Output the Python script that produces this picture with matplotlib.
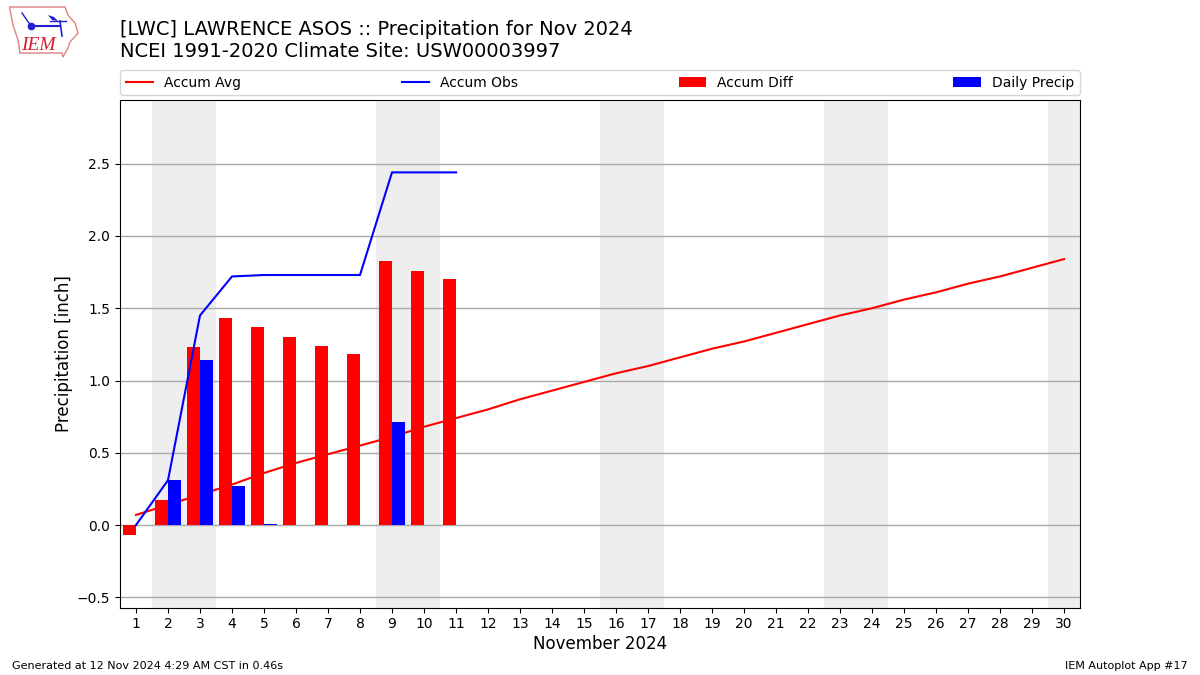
import matplotlib
matplotlib.use("Agg")
import matplotlib.pyplot as plt
from matplotlib.patches import Polygon

# November 2024 daily values
days = list(range(1, 31))
obs_days = list(range(1, 12))
accum_avg = [0.07, 0.14, 0.21, 0.28, 0.36, 0.43, 0.49, 0.55, 0.61, 0.68,
             0.74, 0.80, 0.87, 0.93, 0.99, 1.05, 1.10, 1.16, 1.22, 1.27,
             1.33, 1.39, 1.45, 1.50, 1.56, 1.61, 1.67, 1.72, 1.78, 1.84]
accum_obs = [0.0, 0.31, 1.45, 1.72, 1.73, 1.73, 1.73, 1.73, 2.44, 2.44, 2.44]
accum_diff = [-0.07, 0.17, 1.23, 1.43, 1.37, 1.30, 1.24, 1.18, 1.83, 1.76, 1.70]
daily_precip = [0.0, 0.31, 1.14, 0.27, 0.01, 0.0, 0.0, 0.0, 0.71, 0.0, 0.0]
weekends = [(1.5, 3.5), (8.5, 10.5), (15.5, 17.5), (22.5, 24.5), (29.5, 30.5)]

fig = plt.figure(figsize=(12, 6.75), dpi=100)
ax = fig.add_axes([0.1, 0.1, 0.8, 0.752])

for start, end in weekends:
    ax.axvspan(start, end, color="#EEEEEE", lw=0, zorder=0)

ax.plot(days, accum_avg, color="red", label="Accum Avg", zorder=1)
ax.plot(obs_days, accum_obs, color="blue", label="Accum Obs", zorder=3)
ax.bar(obs_days, accum_diff, width=-0.4, align="edge", color="red",
       label="Accum Diff", zorder=2)
ax.bar(obs_days, daily_precip, width=0.4, align="edge", color="blue",
       label="Daily Precip", zorder=2)

ax.set_axisbelow(True)
ax.grid(True, axis="y", color="#AAAAAA", lw=1)
ax.set_xlim(0.5, 30.5)
ax.set_ylim(-0.5705, 2.9415)
ax.set_xticks(days)
ax.tick_params(labelsize=10)
ax.set_yticks([-0.5, 0, 0.5, 1, 1.5, 2, 2.5])
ax.set_xlabel("November 2024", fontsize=12, labelpad=3)
ax.set_ylabel("Precipitation [inch]", fontsize=12, labelpad=2.6)
ax.legend(loc="lower left", bbox_to_anchor=(0, 1.0095, 1, 0.05), mode="expand",
          ncol=4, fontsize=10, borderaxespad=0)

fig.text(0.1, 0.910, "[LWC] LAWRENCE ASOS :: Precipitation for Nov 2024\n"
         "NCEI 1991-2020 Climate Site: USW00003997", fontsize=14, va="bottom",
         linespacing=1.17)
fig.text(0.01, 0.0085, "Generated at 12 Nov 2024 4:29 AM CST in 0.46s", fontsize=8)
fig.text(0.99, 0.0085, "IEM Autoplot App #17", fontsize=8, ha="right")

# IEM logo, drawn in reference pixels
logo = fig.add_axes([0, 1 - 65 / 675, 90 / 1200, 65 / 675])
logo.set_xlim(0, 90)
logo.set_ylim(65, 0)
logo.axis("off")
outline = [(9.5, 7), (65, 7), (68, 15), (75, 23), (78, 33), (70, 42), (68, 48),
           (63, 57), (62, 53), (20, 53), (18, 40), (13, 25)]
logo.add_patch(Polygon(outline, closed=True, fill=False, ec="#E08080", lw=1))
logo.plot([31, 60], [26, 26], color="#2020D0", lw=1.5)
logo.plot([31], [26], "o", color="#2020D0", ms=4.5)
logo.plot([22, 31], [13, 26], color="#2020D0", lw=1)
logo.plot([60, 62], [21, 36], color="#2020D0", lw=1.2)
logo.plot([50, 66], [21, 21], color="#2020D0", lw=1)
logo.add_patch(Polygon([(48, 15), (54, 17), (58, 21), (52, 20)], closed=True,
                       color="#2020D0", lw=0))
logo.text(21, 45, "IEM", color="#D02030", fontsize=14, family="Liberation Serif",
          style="italic", va="center")

fig.savefig("out.png", dpi=100)
